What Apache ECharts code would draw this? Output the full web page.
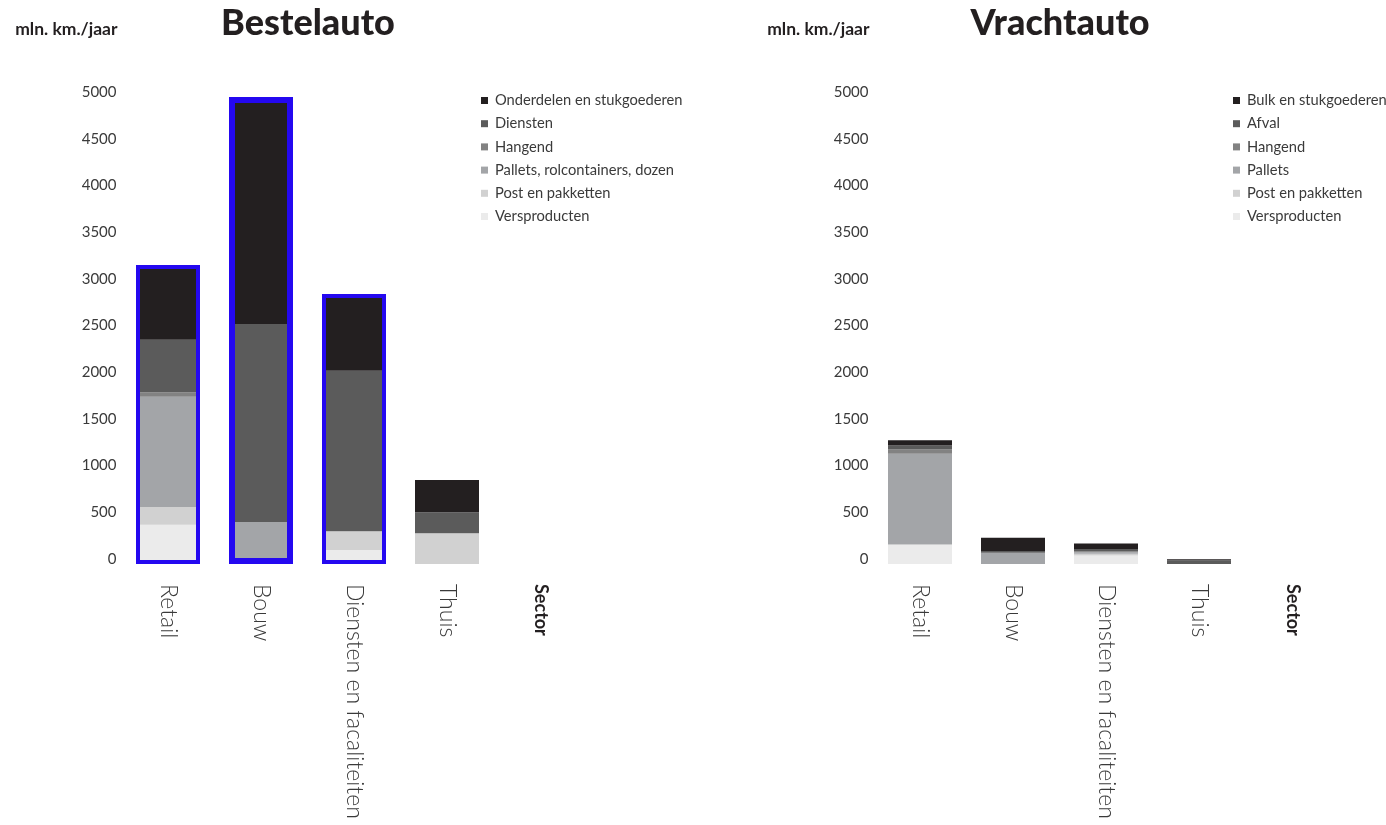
<!DOCTYPE html>
<html>
<head>
<meta charset="utf-8">
<script src="https://cdn.jsdelivr.net/npm/echarts@6/dist/echarts.min.js"></script>
<style>
  html, body { margin: 0; padding: 0; background: #ffffff; }
  #chart { width: 1386px; height: 825px; }
</style>
</head>
<body>
<div id="chart"></div>
<script>
// Sectors on the x axis (shared by both panels)
const categories = ['Retail', 'Bouw', 'Diensten en facaliteiten', 'Thuis'];
const yTicks = [0, 500, 1000, 1500, 2000, 2500, 3000, 3500, 4000, 4500, 5000];

// Bestelauto, mln. km./jaar per sector
const bestelOnderdelen = [800, 2430, 820, 345];
const bestelDiensten   = [560, 2120, 1720, 225];
const bestelHangend    = [50, 0, 0, 0];
const bestelPallets    = [1180, 450, 0, 0];
const bestelPost       = [190, 0, 200, 330];
const bestelVers       = [420, 0, 150, 0];

// Vrachtauto, mln. km./jaar per sector
const vrachtBulk    = [55, 140, 60, 10];
const vrachtAfval   = [45, 20, 25, 40];
const vrachtHangend = [45, 0, 10, 0];
const vrachtPallets = [970, 120, 15, 0];
const vrachtPost    = [0, 0, 20, 0];
const vrachtVers    = [210, 0, 90, 0];

// Sectors outlined in the Bestelauto panel
const outlined = ['Retail', 'Bouw', 'Diensten en facaliteiten'];

// Styling
const FONT = 'Lato, "Noto Sans", sans-serif';
const INK = '#231f20';
const LABEL = '#3a3a3a';
const OUTLINE = '#2408f0';
const outlineWidth = { 'Retail': 4, 'Bouw': 6, 'Diensten en facaliteiten': 4 };
const shades = {
  top:     '#231f20',
  second:  '#5b5b5b',
  hangend: '#828282',
  pallets: '#a3a5a8',
  post:    '#d1d1d1',
  vers:    '#ebebeb'
};
const BAR_W = 64;

function stackSeries(name, data, color, idx) {
  return {
    name: name,
    type: 'bar',
    stack: 'total' + idx,
    xAxisIndex: idx,
    yAxisIndex: idx,
    barWidth: BAR_W,
    barGap: '-100%',
    data: data,
    itemStyle: { color: color },
    emphasis: { disabled: true },
    animation: false
  };
}

function sumColumns(arrays) {
  return categories.map((_, i) => arrays.reduce((s, a) => s + a[i], 0));
}

const bestelTotals = sumColumns([bestelOnderdelen, bestelDiensten, bestelHangend, bestelPallets, bestelPost, bestelVers]);

function xAxisFor(gridIndex) {
  return {
    type: 'category',
    gridIndex: gridIndex,
    data: categories,
    axisLine: { show: false },
    axisTick: { show: false },
    axisLabel: {
      rotate: -90,
      margin: 20,
      fontFamily: FONT,
      fontWeight: 300,
      fontSize: 23,
      color: LABEL,
      interval: 0
    },
    name: 'Sector',
    nameLocation: 'end',
    nameRotate: -90,
    nameGap: 47,
    nameTextStyle: {
      fontFamily: FONT,
      fontWeight: 'bold',
      fontSize: 18,
      color: INK,
      align: 'left',
      verticalAlign: 'middle',
      padding: [0, 0, 0, 20]
    }
  };
}

function yAxisFor(gridIndex) {
  return {
    type: 'value',
    gridIndex: gridIndex,
    min: yTicks[0],
    max: yTicks[yTicks.length - 1],
    interval: yTicks[1] - yTicks[0],
    axisLine: { show: false },
    axisTick: { show: false },
    splitLine: { show: false },
    axisLabel: {
      margin: 5,
      fontFamily: FONT,
      fontSize: 15,
      color: LABEL,
      verticalAlign: 'bottom',
      lineHeight: 10,
      formatter: v => String(v)
    },
    name: 'mln. km./jaar',
    nameLocation: 'end',
    nameGap: 59,
    nameTextStyle: {
      fontFamily: FONT,
      fontWeight: 'bold',
      fontSize: 17.5,
      color: INK,
      align: 'right',
      padding: [0, 4, 0, 0]
    }
  };
}

function legendFor(left, names) {
  return {
    orient: 'vertical',
    left: left,
    top: 88,
    data: names,
    icon: 'rect',
    itemWidth: 7,
    itemHeight: 7,
    itemGap: 8.2,
    selectedMode: false,
    textStyle: {
      fontFamily: FONT,
      fontSize: 14.7,
      color: LABEL,
      lineHeight: 15,
      padding: [0, 0, 0, 2]
    }
  };
}

const option = {
  backgroundColor: '#ffffff',
  animation: false,
  title: [
    {
      text: 'Bestelauto', left: 303, top: 0, textAlign: 'center',
      textStyle: { fontFamily: FONT, fontWeight: 900, fontSize: 36, color: INK }
    },
    {
      text: 'Vrachtauto', left: 1055, top: 0, textAlign: 'center',
      textStyle: { fontFamily: FONT, fontWeight: 900, fontSize: 36, color: INK }
    }
  ],
  legend: [
    legendFor(476, ['Onderdelen en stukgoederen', 'Diensten', 'Hangend', 'Pallets, rolcontainers, dozen', 'Post en pakketten', 'Versproducten']),
    legendFor(1228, ['Bulk en stukgoederen', 'Afval', 'Hangend', 'Pallets', 'Post en pakketten', 'Versproducten'])
  ],
  grid: [
    { left: 121.5, width: 372, top: 97, height: 467 },
    { left: 873.5, width: 372, top: 97, height: 467 }
  ],
  xAxis: [xAxisFor(0), xAxisFor(1)],
  yAxis: [yAxisFor(0), yAxisFor(1)],
  series: [
    stackSeries('Versproducten', bestelVers, shades.vers, 0),
    stackSeries('Post en pakketten', bestelPost, shades.post, 0),
    stackSeries('Pallets, rolcontainers, dozen', bestelPallets, shades.pallets, 0),
    stackSeries('Hangend', bestelHangend, shades.hangend, 0),
    stackSeries('Diensten', bestelDiensten, shades.second, 0),
    stackSeries('Onderdelen en stukgoederen', bestelOnderdelen, shades.top, 0),
    {
      name: 'outline',
      type: 'bar',
      xAxisIndex: 0,
      yAxisIndex: 0,
      barWidth: BAR_W,
      barGap: '-100%',
      z: 5,
      silent: true,
      data: categories.map((c, i) => outlined.includes(c)
        ? { value: bestelTotals[i], itemStyle: { borderWidth: outlineWidth[c] } }
        : '-'),
      itemStyle: { color: 'rgba(0,0,0,0)', borderColor: OUTLINE, borderWidth: 4 },
      emphasis: { disabled: true }
    },
    stackSeries('Versproducten', vrachtVers, shades.vers, 1),
    stackSeries('Post en pakketten', vrachtPost, shades.post, 1),
    stackSeries('Pallets', vrachtPallets, shades.pallets, 1),
    stackSeries('Hangend', vrachtHangend, shades.hangend, 1),
    stackSeries('Afval', vrachtAfval, shades.second, 1),
    stackSeries('Bulk en stukgoederen', vrachtBulk, shades.top, 1)
  ]
};

const chart = echarts.init(document.getElementById('chart'), null, { renderer: 'canvas' });
chart.setOption(option);
</script>
</body>
</html>
